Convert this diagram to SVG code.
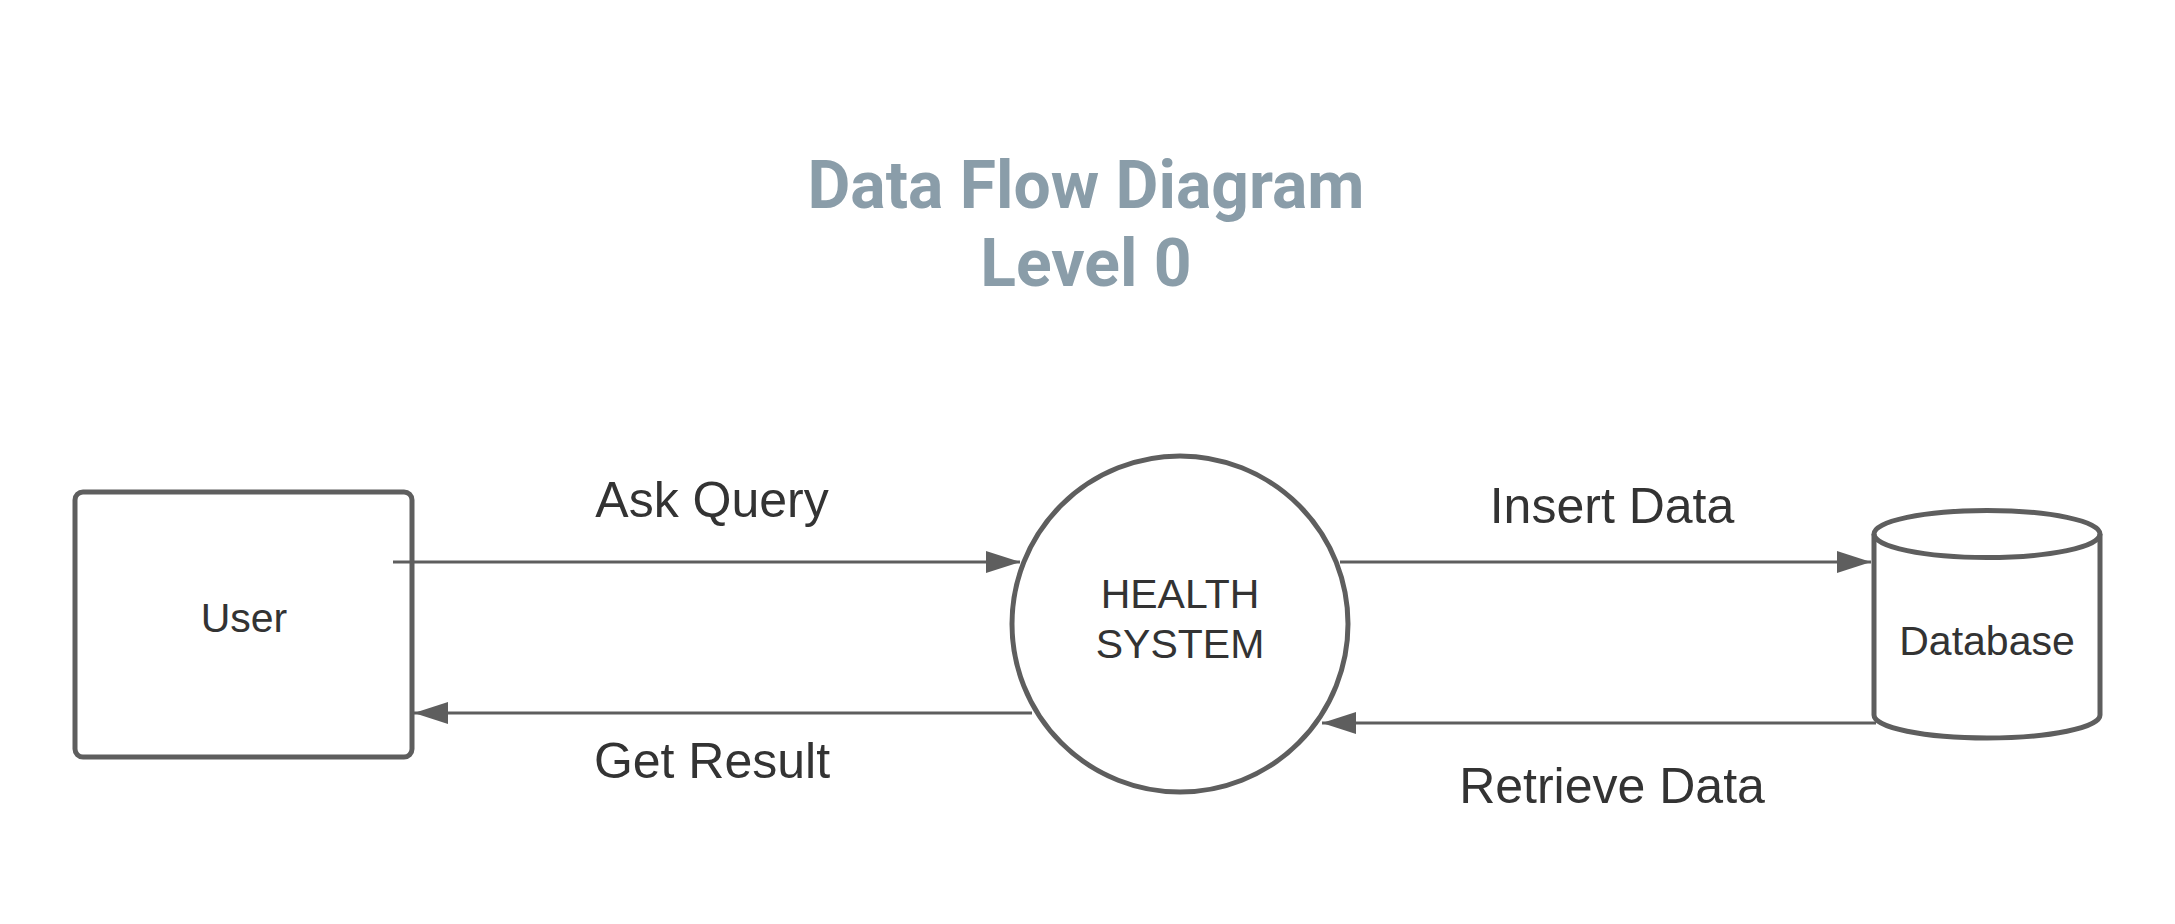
<svg xmlns="http://www.w3.org/2000/svg" width="2175" height="924" viewBox="0 0 2175 924">
<style>
.shape{fill:#ffffff;stroke:#5e5e5e;stroke-width:5}
.conn{fill:none;stroke:#5e5e5e;stroke-width:3}
.node{font-family:"Liberation Sans",Arial,sans-serif;font-size:41px;fill:#333333;text-anchor:middle}
.lbl{font-family:"Liberation Sans",Arial,sans-serif;font-size:50px;fill:#333333;text-anchor:middle}
.title{font-family:Roboto,"Liberation Sans",sans-serif;font-weight:bold;font-size:66px;fill:#8a9da9;text-anchor:middle}
</style>
<defs>
<marker id="arr" markerUnits="userSpaceOnUse" markerWidth="36" markerHeight="24" refX="34" refY="11" orient="auto">
<path d="M0,0 L34,11 L0,22 Z" fill="#5e5e5e"/>
</marker>
</defs>
<rect width="2175" height="924" fill="#ffffff"/>
<g id="title">
<text class="title" x="1086" y="208">Data Flow Diagram</text>
<text class="title" x="1086" y="286">Level 0</text>
</g>
<g id="user">
<rect class="shape" x="75" y="492" width="337" height="265" rx="8"/>
<text class="node" x="244" y="632">User</text>
</g>
<g id="health-system">
<circle class="shape" cx="1180" cy="624" r="168"/>
<text class="node" x="1180" y="608">HEALTH</text>
<text class="node" x="1180" y="658">SYSTEM</text>
</g>
<g id="database">
<path class="shape" d="M1874,534 L1874,715 A113,23 0 0 0 2100,715 L2100,534 A113,23.5 0 0 0 1874,534 Z"/>
<path class="shape" style="fill:none" d="M1874,534 A113,23.5 0 0 0 2100,534"/>
<text class="node" x="1987" y="655">Database</text>
</g>
<g id="connectors">
<line class="conn" x1="393" y1="562" x2="1020" y2="562" marker-end="url(#arr)"/>
<line class="conn" x1="1032" y1="713" x2="414" y2="713" marker-end="url(#arr)"/>
<line class="conn" x1="1340" y1="562" x2="1871" y2="562" marker-end="url(#arr)"/>
<line class="conn" x1="1876" y1="723" x2="1322" y2="723" marker-end="url(#arr)"/>
<text class="lbl" x="712" y="517">Ask Query</text>
<text class="lbl" x="712" y="778">Get Result</text>
<text class="lbl" x="1612" y="523">Insert Data</text>
<text class="lbl" x="1612" y="803">Retrieve Data</text>
</g>
</svg>
